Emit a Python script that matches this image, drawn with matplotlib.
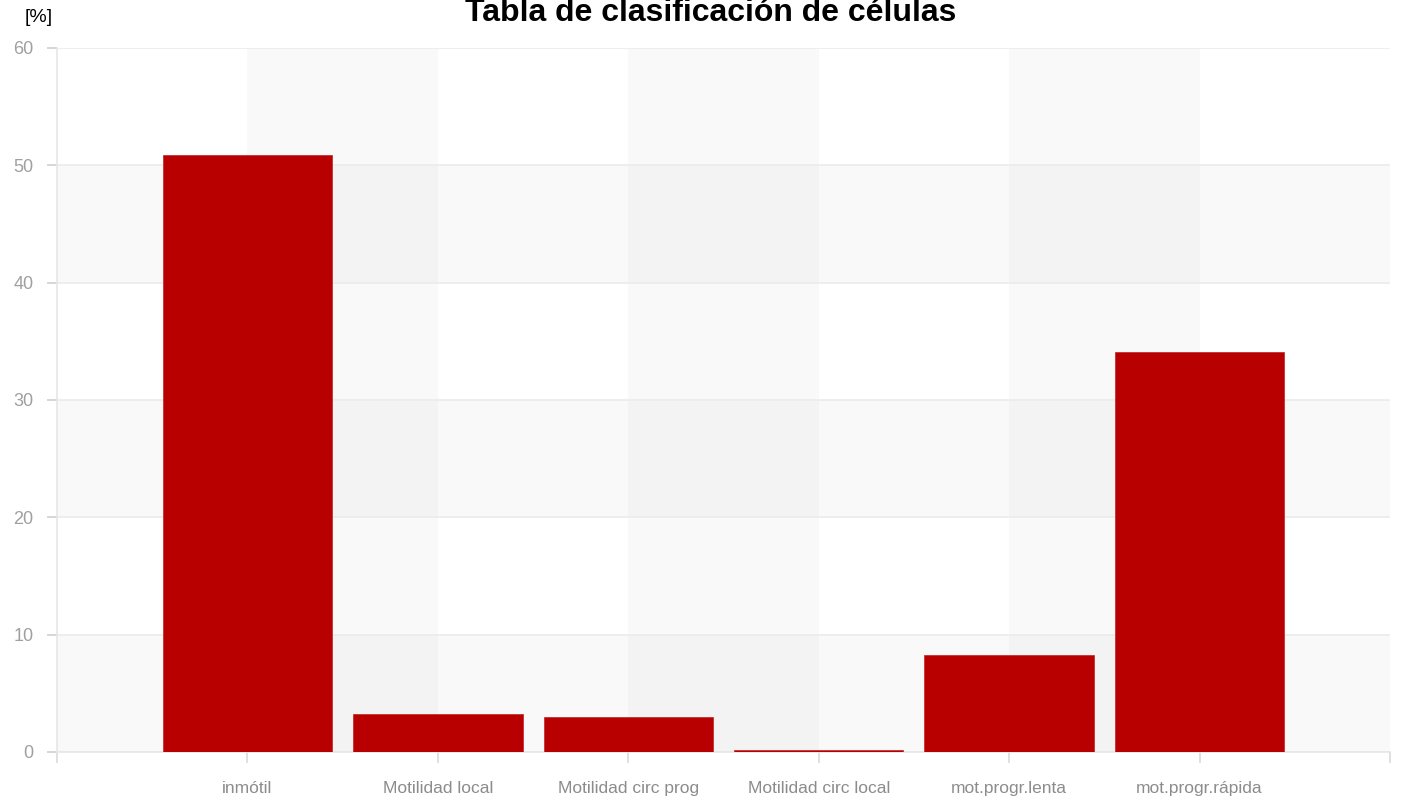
import matplotlib
matplotlib.use("Agg")
import matplotlib.pyplot as plt
import numpy as np

# data
categories = ["inmótil", "Motilidad local", "Motilidad circ prog",
              "Motilidad circ local", "mot.progr.lenta", "mot.progr.rápida"]
values = [50.9, 3.25, 3.0, 0.2, 8.3, 34.1]
y_ticks = [0, 10, 20, 30, 40, 50, 60]

plt.rcParams['font.family'] = ['Liberation Sans', 'DejaVu Sans']

fig = plt.figure(figsize=(14.01, 8.02), dpi=100)
ax = fig.add_axes([57/1401, 50/802, (1390-57)/1401, (752-48)/802])

x = np.arange(len(categories))
ax.set_xlim(-1, len(categories))
ax.set_ylim(0, 60)

# alternating bands (both directions, overlap gets darker)
for i in range(0, len(categories), 2):
    ax.axvspan(x[i], x[i] + 1, color='black', alpha=0.022, lw=0, zorder=0)
for y0 in range(0, 60, 20):
    ax.axhspan(y0, y0 + 10, color='black', alpha=0.025, lw=0, zorder=0)

for y in y_ticks:
    ax.axhline(y, color='#ebebeb', lw=1.2, zorder=1)

ax.bar(x, values, width=0.89, color='#b80000', edgecolor='#c42020', lw=0.5, zorder=3)

for s in ['top', 'right']:
    ax.spines[s].set_visible(False)
ax.spines['left'].set_color('#e6e6e6')
ax.spines['bottom'].set_color('#e6e6e6')
ax.spines['left'].set_linewidth(1.2)
ax.spines['bottom'].set_linewidth(1.2)

ax.set_yticks(y_ticks)
ax.set_yticklabels([str(v) for v in y_ticks])
ax.set_xticks(list(x) + [-1, len(categories)])
ax.set_xticklabels(categories + ['', ''])
ax.tick_params(axis='y', colors='#d0d0d0', labelcolor='#a0a0a0', labelsize=13,
               length=7, width=1.2, pad=10)
ax.tick_params(axis='x', colors='#dadada', labelcolor='#8c8c8c', labelsize=12.5,
               length=8, width=1.2, pad=13)

fig.text(711/1401, 1 - 21/802, "Tabla de clasificación de células", ha='center', va='baseline',
         fontsize=23, fontweight='bold', color='black')
fig.text(39/1401, 1 - 17/802, "[%]", ha='center', va='center', fontsize=14, color='black')

fig.savefig("out.png", dpi=100)
